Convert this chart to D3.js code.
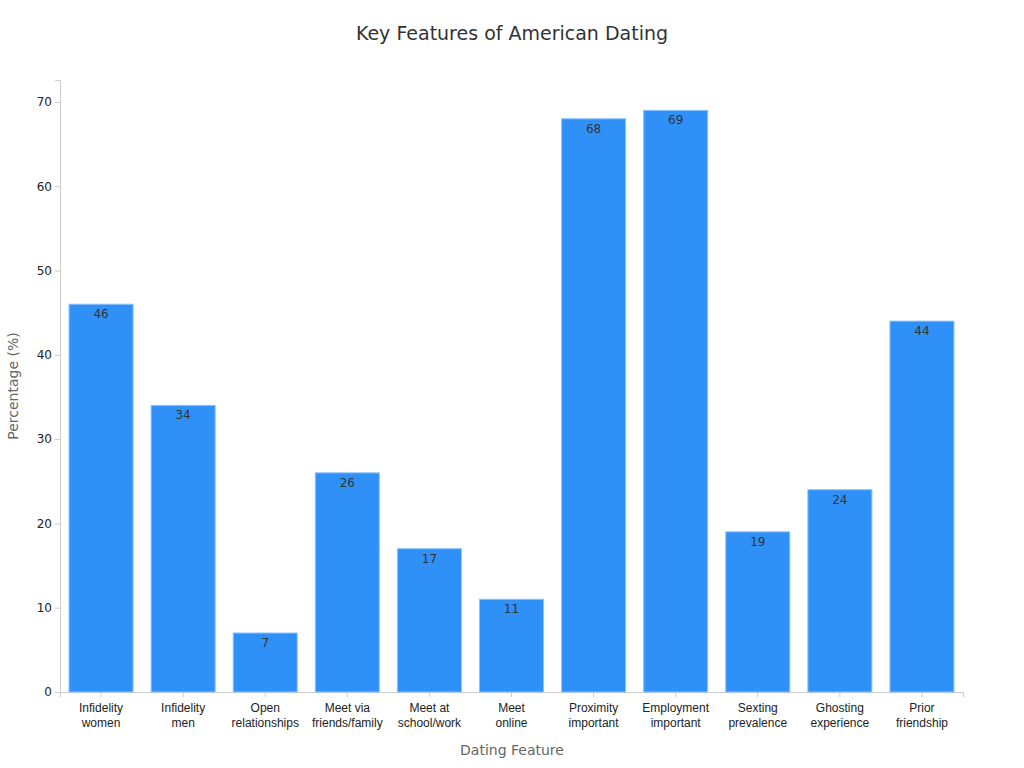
<!DOCTYPE html>
<html><head><meta charset="utf-8">
<script src="https://cdn.jsdelivr.net/npm/d3@7"></script>
<style>body{margin:0;background:#fff;font-family:"DejaVu Sans",sans-serif}</style>
</head><body><svg id="c" width="1024" height="768"></svg>
<script>
const categories=[["Infidelity","women"],["Infidelity","men"],["Open","relationships"],["Meet via","friends/family"],["Meet at","school/work"],["Meet","online"],["Proximity","important"],["Employment","important"],["Sexting","prevalence"],["Ghosting","experience"],["Prior","friendship"]];
const values=[46,34,7,26,17,11,68,69,19,24,44];
const yTicks=[0,10,20,30,40,50,60,70];
const svg=d3.select("#c");
const m={l:60,r:963,t:80,b:692};
const x=d3.scaleBand().domain(d3.range(categories.length)).range([m.l,m.r]).paddingInner(0.22).paddingOuter(0.11);
const y=d3.scaleLinear().domain([0,72.6]).range([m.b,m.t]);
svg.append("text").attr("x",512).attr("y",40).attr("text-anchor","middle").attr("font-size",19).attr("fill","#333").text("Key Features of American Dating");
const ya=svg.append("g").attr("transform",`translate(${m.l},0)`).call(d3.axisLeft(y).tickValues(yTicks).tickSize(5));
const xa=svg.append("g").attr("transform",`translate(0,${m.b})`).call(d3.axisBottom(x).tickSize(5).tickFormat(""));
[ya,xa].forEach(a=>{a.selectAll("path,line").attr("stroke","#ccc");a.selectAll("text").attr("font-size",12).attr("fill","#222").attr("font-family","DejaVu Sans");});
xa.selectAll(".tick").each(function(d){const t=d3.select(this).append("text").attr("y",20).attr("text-anchor","middle").attr("font-size",12).attr("fill","#222");
categories[d].forEach((s,i)=>t.append("tspan").attr("x",0).attr("dy",i?15:0).text(s));});
svg.selectAll("rect.b").data(values).join("rect").attr("x",(d,i)=>x(i)).attr("width",x.bandwidth()).attr("y",d=>y(d)).attr("height",d=>m.b-y(d)).attr("fill","#2f91f7").attr("stroke","#8cc2fb").attr("stroke-width",1);
svg.selectAll("text.v").data(values).join("text").attr("x",(d,i)=>x(i)+x.bandwidth()/2).attr("y",d=>y(d)+14).attr("text-anchor","middle").attr("font-size",12).attr("fill","#333").text(d=>d);
svg.append("text").attr("x",512).attr("y",755).attr("text-anchor","middle").attr("font-size",14).attr("fill","#666").text("Dating Feature");
svg.append("text").attr("transform","translate(18,386) rotate(-90)").attr("text-anchor","middle").attr("font-size",14).attr("fill","#666").text("Percentage (%)");
</script></body></html>
